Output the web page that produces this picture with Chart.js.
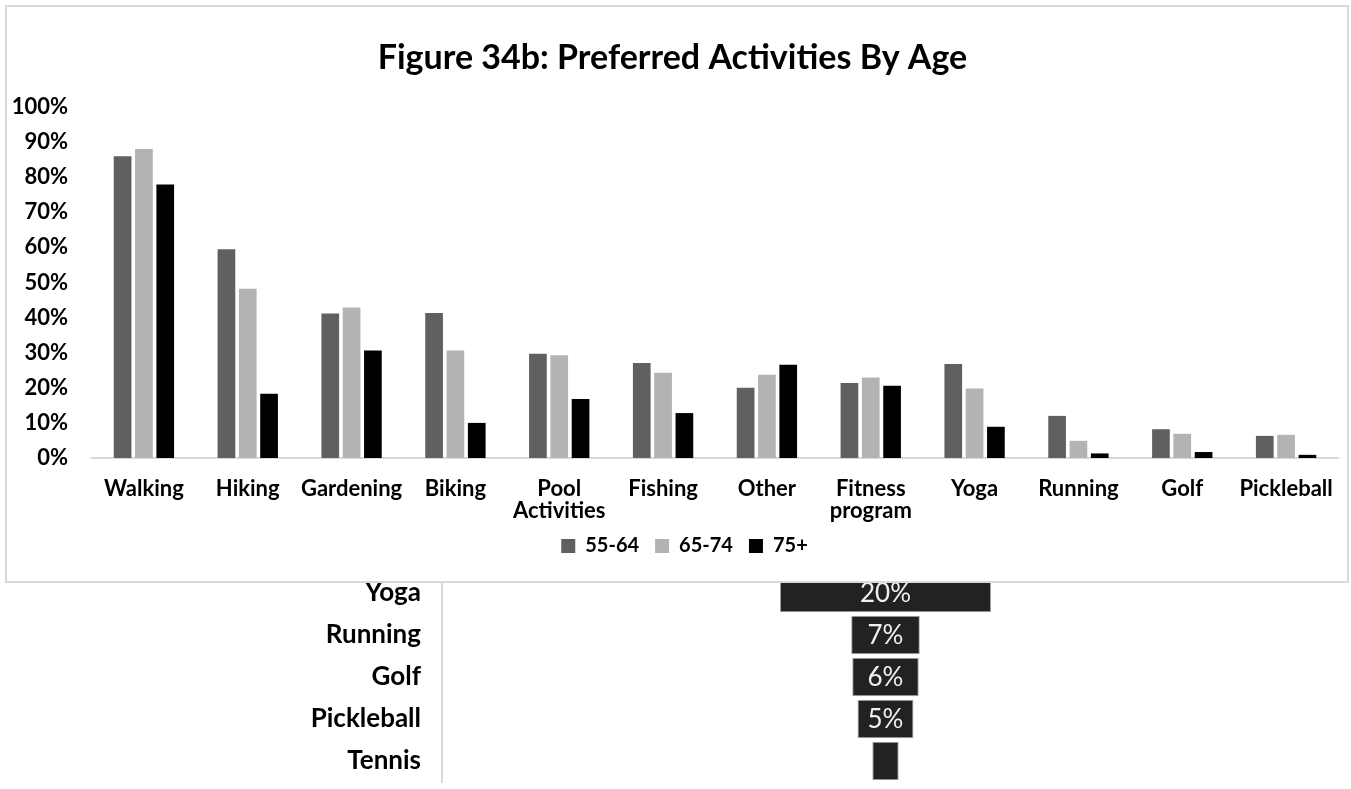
<!DOCTYPE html>
<html>
<head>
<meta charset="utf-8">
<script src="https://cdn.jsdelivr.net/npm/chart.js@4.4.1/dist/chart.umd.min.js"></script>
<style>
  html, body { margin: 0; padding: 0; background: #ffffff; width: 1351px; height: 789px; overflow: hidden; }
  #funnelWrap { position: absolute; left: 0; top: 540px; width: 1351px; height: 258px; z-index: 0; }
  #barWrap { position: absolute; left: 5px; top: 5px; width: 1344px; height: 578px; box-sizing: border-box;
             border: 2px solid #d9d9d9; background: #ffffff; z-index: 1; }
  canvas { display: block; }
</style>
</head>
<body>
<div id="funnelWrap"><canvas id="funnel" width="1351" height="258" style="width:1351px;height:258px"></canvas></div>
<div id="barWrap"><canvas id="bars" width="1340" height="574" style="width:1340px;height:574px"></canvas></div>
<script>
// ---- Data ----
const categories = ['Walking', 'Hiking', 'Gardening', 'Biking', ['Pool', 'Activities'], 'Fishing', 'Other',
                    ['Fitness', 'program'], 'Yoga', 'Running', 'Golf', 'Pickleball'];
const seriesNames = ['55-64', '65-74', '75+'];
const age55to64 = [86.0, 59.5, 41.2, 41.3, 29.7, 27.1, 20.0, 21.4, 26.8, 12.0, 8.2, 6.3];
const age65to74 = [88.0, 48.2, 42.9, 30.6, 29.3, 24.3, 23.7, 22.9, 19.8, 4.9, 6.9, 6.6];
const age75plus = [77.9, 18.3, 30.6, 10.0, 16.8, 12.8, 26.6, 20.6, 8.9, 1.3, 1.7, 0.9];
const yTicks = [0, 10, 20, 30, 40, 50, 60, 70, 80, 90, 100];
const titleText = 'Figure 34b: Preferred Activities By Age';

const funnelCats = ['Yoga', 'Running', 'Golf', 'Pickleball', 'Tennis'];
const funnelVals = [20, 6.5, 6.3, 5.3, 2.5];
const funnelLabels = ['20%', '7%', '6%', '5%', ''];

const FONT = 'Lato, "Open Sans", "Liberation Sans", sans-serif';
const seriesColors = ['#606060', '#b3b3b3', '#000000'];

// nudge the centred legend row to where the reference has it
const legendShift = {
  id: 'legendShift',
  afterLayout(chart) {
    const lg = chart.legend;
    if (lg) { lg.left += 12; lg.right += 12; lg.top -= 4; lg.bottom -= 4; }
  }
};

// ---- Top: clustered bar chart ----
new Chart(document.getElementById('bars'), {
  type: 'bar',
  data: {
    labels: categories,
    datasets: [age55to64, age65to74, age75plus].map((vals, i) => ({
      label: seriesNames[i],
      data: vals,
      backgroundColor: seriesColors[i],
      borderWidth: 0,
      categoryPercentage: 0.616,
      barPercentage: 0.83
    }))
  },
  options: {
    responsive: false,
    maintainAspectRatio: false,
    animation: false,
    devicePixelRatio: 1,
    layout: { padding: { left: 0, right: 9, top: 0, bottom: 11 } },
    plugins: {
      title: {
        display: true,
        text: titleText,
        color: '#000000',
        font: { family: FONT, size: 34, weight: 'bold', lineHeight: 1.2 },
        padding: { top: 31, bottom: 28.2 }
      },
      legend: {
        display: true,
        position: 'bottom',
        labels: {
          color: '#000000',
          font: { family: FONT, size: 20, weight: 'bold' },
          boxWidth: 14,
          boxHeight: 14,
          padding: 16
        }
      },
      tooltip: { enabled: false }
    },
    scales: {
      x: {
        grid: { display: false, drawTicks: true, tickLength: 19.5 },
        border: { display: true, color: '#d9d9d9', width: 2 },
        ticks: {
          color: '#000000',
          font: { family: FONT, size: 22, weight: 'bold', lineHeight: 1.0 },
          padding: 0,
          maxRotation: 0,
          autoSkip: false
        },
        afterFit: (s) => { s.height = 66; }
      },
      y: {
        min: 0,
        max: 100,
        afterBuildTicks: (s) => { s.ticks = yTicks.map(v => ({ value: v })); },
        grid: { display: false, drawTicks: false },
        border: { display: false },
        ticks: {
          color: '#000000',
          font: { family: FONT, size: 22, weight: 'bold' },
          padding: 24,
          callback: (v) => v + '%'
        },
        afterFit: (s) => { s.width = 85; }
      }
    }
  },
  plugins: [legendShift]
});

// ---- Bottom: partially visible funnel chart ----
const funnelValueLabels = {
  id: 'funnelValueLabels',
  afterDatasetsDraw(chart) {
    const ctx = chart.ctx;
    const meta = chart.getDatasetMeta(0);
    ctx.save();
    ctx.fillStyle = '#f0f0f0';
    ctx.font = '26px ' + FONT;
    ctx.textAlign = 'center';
    ctx.textBaseline = 'middle';
    meta.data.forEach((el, i) => {
      const txt = funnelLabels[i];
      if (!txt) return;
      ctx.fillText(txt, (el.x + el.base) / 2, el.y + 1);
    });
    ctx.restore();
  }
};

new Chart(document.getElementById('funnel'), {
  type: 'bar',
  data: {
    labels: funnelCats,
    datasets: [{
      data: funnelVals.map(v => [-v / 2, v / 2]),
      backgroundColor: '#222222',
      borderColor: '#a6a6a6',
      borderWidth: 1,
      borderSkipped: false,
      categoryPercentage: 1,
      barPercentage: 0.92
    }]
  },
  options: {
    indexAxis: 'y',
    responsive: false,
    maintainAspectRatio: false,
    animation: false,
    devicePixelRatio: 1,
    layout: { padding: { left: 0, right: 22, top: 32, bottom: 16 } },
    plugins: { legend: { display: false }, title: { display: false }, tooltip: { enabled: false } },
    scales: {
      x: { display: false, min: -42, max: 42, afterFit: (s) => { s.height = 0; } },
      y: {
        grid: { display: false, drawTicks: true, tickLength: 21 },
        border: { display: true, color: '#d9d9d9', width: 2 },
        ticks: {
          color: '#000000',
          font: { family: FONT, size: 26, weight: 'bold' },
          padding: 0
        },
        afterFit: (s) => { s.width = 442; }
      }
    }
  },
  plugins: [funnelValueLabels]
});
</script>
</body>
</html>
